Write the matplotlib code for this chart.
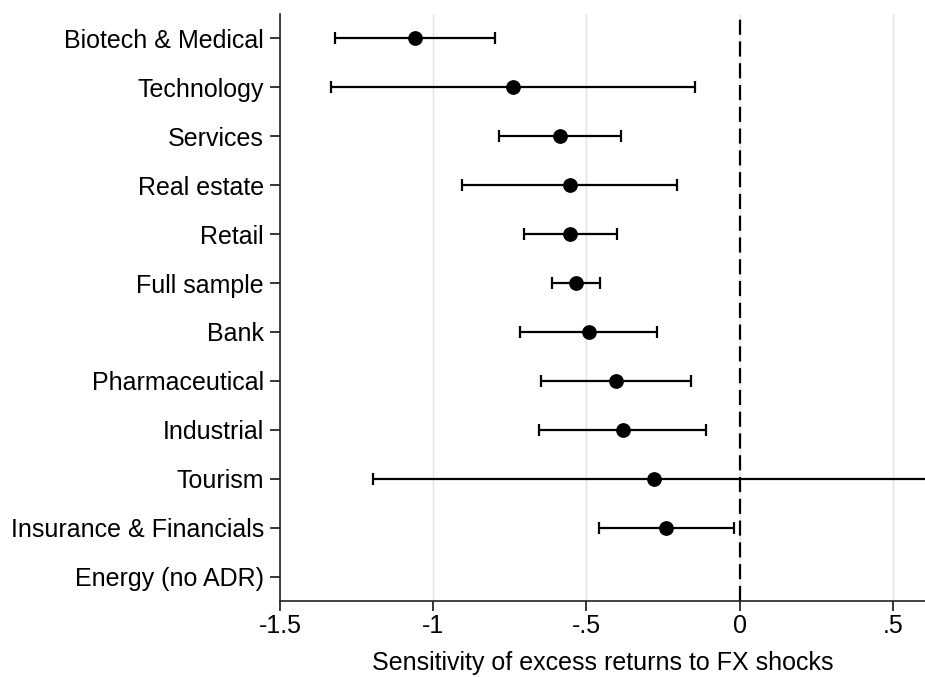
import matplotlib
matplotlib.use("Agg")
import matplotlib.pyplot as plt
import numpy as np

plt.rcParams['font.family'] = ['Liberation Sans', 'DejaVu Sans']

categories = ["Biotech & Medical", "Technology", "Services", "Real estate", "Retail",
              "Full sample", "Bank", "Pharmaceutical", "Industrial", "Tourism",
              "Insurance & Financials", "Energy (no ADR)"]
estimates = [-1.059, -0.738, -0.586, -0.553, -0.553, -0.535, -0.493, -0.404, -0.382, -0.281, -0.240, np.nan]
ci_low = [-1.322, -1.333, -0.785, -0.905, -0.704, -0.613, -0.716, -0.649, -0.655, -1.196, -0.458, np.nan]
ci_high = [-0.798, -0.147, -0.388, -0.203, -0.401, -0.455, -0.269, -0.158, -0.110, 0.640, -0.019, np.nan]
xticks = [-1.5, -1.0, -0.5, 0.0, 0.5]
xticklabels = ["-1.5", "-1", "-.5", "0", ".5"]

fig = plt.figure(figsize=(9.25, 6.77), dpi=100)
ax = fig.add_axes([280/925, (677-601)/677, 1 - 280/925, (601-14)/677])

n = len(categories)
ypos = np.arange(n)
est = np.array(estimates)
lo = np.array(ci_low)
hi = np.array(ci_high)
xerr = np.vstack([est - lo, hi - est])

ax.errorbar(est, ypos, xerr=xerr, fmt='o', color='black', ecolor='black',
            elinewidth=1.6, capsize=4.5, capthick=1.6, markersize=9.6, zorder=3)

ax.axvline(0, color='black', lw=1.6, linestyle=(0, (6.8, 3.0)), zorder=2)

ax.set_xlim(-1.5, 0.605)
ax.set_ylim(n - 1 + 0.49, -0.49)
ax.set_yticks(ypos)
ax.set_yticklabels(categories)
ax.set_xticks(xticks)
ax.set_xticklabels(xticklabels)
ax.xaxis.grid(True, color='#e3e3e3', lw=1.0, zorder=0)
ax.set_axisbelow(True)

for s in ['top', 'right']:
    ax.spines[s].set_visible(False)
for s in ['left', 'bottom']:
    ax.spines[s].set_linewidth(1.2)
    ax.spines[s].set_color('#222222')

ax.tick_params(axis='both', length=7.2, width=1.1, labelsize=18, colors='black')
ax.tick_params(axis='x', pad=2.5)
ax.tick_params(axis='y', pad=4.3)
ax.set_xlabel("Sensitivity of excess returns to FX shocks", fontsize=18, labelpad=9)

fig.savefig("out.png", dpi=100)
